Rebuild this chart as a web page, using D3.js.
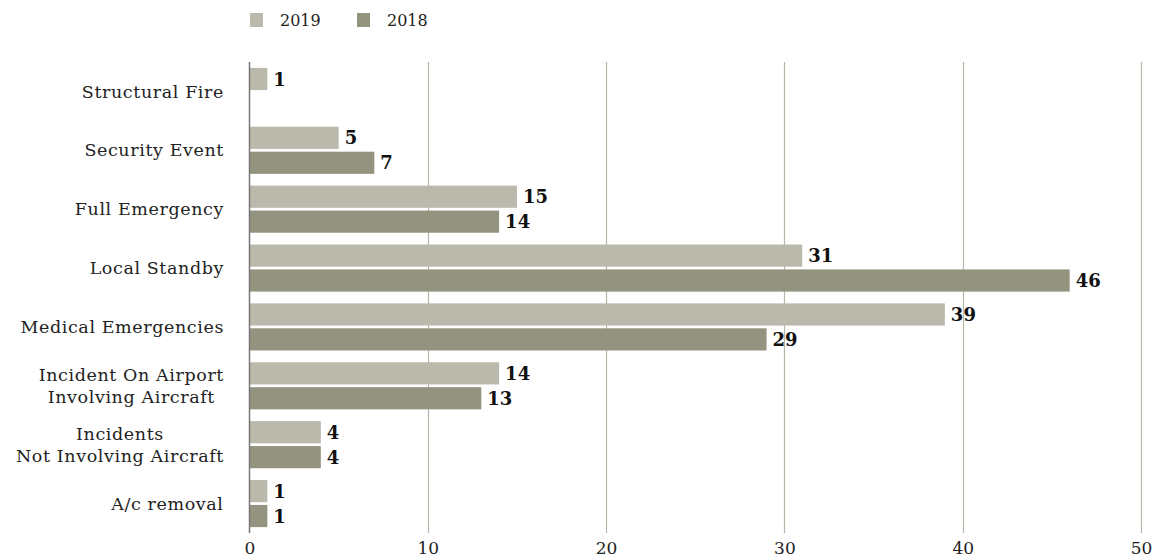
<!DOCTYPE html>
<html>
<head>
<meta charset="utf-8">
<script src="https://cdn.jsdelivr.net/npm/d3@7/dist/d3.min.js"></script>
<style>
  html, body { margin: 0; padding: 0; background: #fff; }
  svg text { font-family: "DejaVu Serif", "Liberation Serif", serif; }
</style>
</head>
<body>
<svg id="chart" width="1154" height="560"></svg>
<script>
// Incident categories, top to bottom
const categories = [
  "Structural Fire",
  "Security Event",
  "Full Emergency",
  "Local Standby",
  "Medical Emergencies",
  "Incident On Airport\nInvolving Aircraft",
  "Incidents\nNot Involving Aircraft",
  "A/c removal"
];
const seriesNames = ["2019", "2018"];
const values2019 = [1, 5, 15, 31, 39, 14, 4, 1];
const values2018 = [null, 7, 14, 46, 29, 13, 4, 1];
const xTicks = [0, 10, 20, 30, 40, 50];
const colors = { "2019": "#bbb9ab", "2018": "#93937f" };

const svg = d3.select("#chart");
const margin = { left: 249.5, right: 13, top: 62, bottom: 27 };
const W = 1154, H = 560;

const x = d3.scaleLinear().domain([0, 50]).range([margin.left, W - margin.right]);
const y = d3.scaleBand().domain(categories).range([margin.top, H - margin.bottom])
  .paddingInner(0.2).paddingOuter(0.1);
const ySub = d3.scaleBand().domain(seriesNames).range([0, y.bandwidth()]).paddingInner(0.11);

// Vertical gridlines
svg.append("g").selectAll("line")
  .data(xTicks.filter(d => d > 0))
  .join("line")
  .attr("x1", d => Math.round(x(d)) + 0.5).attr("x2", d => Math.round(x(d)) + 0.5)
  .attr("y1", margin.top).attr("y2", H - margin.bottom)
  .attr("stroke", "#b5b5a8").attr("stroke-width", 1.2);

// Bottom axis tick labels
const xAxis = d3.axisBottom(x).tickValues(xTicks).tickSize(0).tickPadding(9);
const gx = svg.append("g").attr("transform", `translate(0,${H - margin.bottom})`).call(xAxis);
gx.select(".domain").remove();
gx.selectAll("text").attr("font-size", 17).attr("fill", "#222")
  .style("font-family", "'DejaVu Serif', serif");

// Bars
const rows = categories.map((c, i) => ({ cat: c, vals: [
  { key: "2019", v: values2019[i] },
  { key: "2018", v: values2018[i] }
].filter(d => d.v != null) }));

const groups = svg.append("g").selectAll("g")
  .data(rows).join("g")
  .attr("transform", d => `translate(0,${y(d.cat)})`);

groups.selectAll("rect")
  .data(d => d.vals).join("rect")
  .attr("x", x(0) + 0.5)
  .attr("y", d => ySub(d.key))
  .attr("width", d => x(d.v) - x(0) - 0.5)
  .attr("height", ySub.bandwidth())
  .attr("fill", d => colors[d.key]);

groups.selectAll("text.val")
  .data(d => d.vals).join("text")
  .attr("class", "val")
  .attr("x", d => x(d.v) + 6)
  .attr("y", d => ySub(d.key) + ySub.bandwidth() / 2)
  .attr("dy", "0.37em")
  .attr("font-size", 18)
  .attr("font-weight", "bold")
  .attr("fill", "#111")
  .text(d => d.v);

// Category labels
const labels = svg.append("g").selectAll("text")
  .data(categories).join("text")
  .attr("text-anchor", "middle")
  .attr("font-size", 17.5)
  .attr("letter-spacing", "0.6px")
  .attr("fill", "#222");
labels.each(function (d) {
  const lines = d.split("\n");
  const sel = d3.select(this);
  const cy = y(d) + y.bandwidth() / 2;
  const lh = 22;
  lines.forEach((ln, i) => {
    sel.append("tspan")
      .attr("x", 0)
      .attr("y", cy + (i - (lines.length - 1) / 2) * lh)
      .attr("dy", "0.35em")
      .text(ln);
  });
  // right-align the block against the axis, centering lines within it
  const bb = this.getBBox();
  const cx = 224 - bb.width / 2;
  sel.selectAll("tspan").attr("x", cx);
});

// Left axis line
svg.append("line")
  .attr("x1", x(0)).attr("x2", x(0))
  .attr("y1", margin.top).attr("y2", H - margin.bottom)
  .attr("stroke", "#777").attr("stroke-width", 1.5);

// Legend
const legend = svg.append("g").selectAll("g")
  .data(seriesNames).join("g")
  .attr("transform", (d, i) => `translate(${250 + i * 107},13)`);
legend.append("rect").attr("width", 13).attr("height", 14).attr("fill", d => colors[d]);
legend.append("text").attr("x", 30).attr("y", 7).attr("dy", "0.36em")
  .attr("font-size", 16).attr("fill", "#222").text(d => d);
</script>
</body>
</html>
